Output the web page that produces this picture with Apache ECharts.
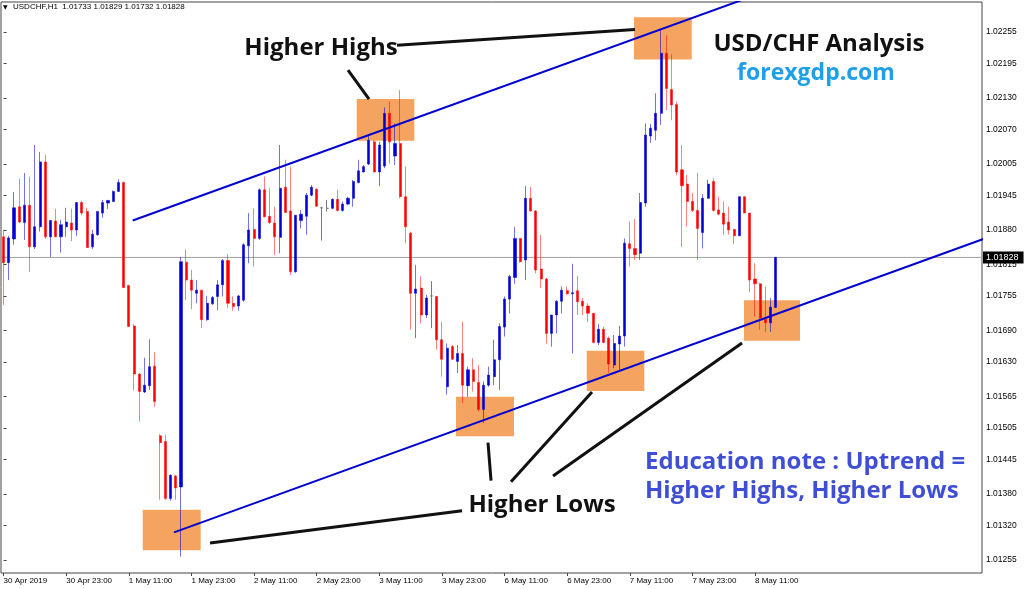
<!DOCTYPE html>
<html><head><meta charset="utf-8">
<script src="https://cdn.jsdelivr.net/npm/echarts@6/dist/echarts.min.js"></script>
<style>html,body{margin:0;padding:0;background:#fff}#c{width:1024px;height:589px}</style>
</head><body><div id="c"></div>
<script>
// ---- price data (H1 bars, 30 Apr 2019 11:00 -> 8 May 2019 15:00) ----
const openP = [1.01867,1.01818,1.01863,1.01924,1.01894,1.01927,1.01848,1.01886,1.02009,1.01867,
1.01897,1.01867,1.01886,1.01893,1.01880,1.01932,1.01915,1.01848,1.01871,1.01912,
1.01931,1.01934,1.01953,1.01970,1.01775,1.01698,1.01607,1.01573,1.01585,1.01622,
1.01490,1.01479,1.01371,1.01414,1.01393,1.01819,1.01785,1.01760,1.01766,1.01710,
1.01740,1.01754,1.01776,1.01822,1.01741,1.01736,1.01747,1.01850,1.01881,1.01864,
1.01956,1.01906,1.01893,1.01866,1.01961,1.01916,1.01801,1.01898,1.01906,1.01946,
1.01957,1.01922,1.01921,1.01921,1.01938,1.01917,1.01929,1.01940,1.01970,1.01990,
1.02005,1.02047,1.01990,1.02001,1.02101,1.02020,1.02044,1.01943,1.01874,1.01760,
1.01770,1.01719,1.01755,1.01754,1.01672,1.01583,1.01659,1.01631,1.01646,1.01585,
1.01615,1.01591,1.01540,1.01586,1.01602,1.01634,1.01696,1.01749,1.01790,1.01864,
1.01823,1.01940,1.01916,1.01806,1.01787,1.01684,1.01719,1.01745,1.01765,1.01759,
1.01765,1.01745,1.01736,1.01722,1.01667,1.01692,1.01675,1.01624,1.01664,1.01679,
1.01854,1.01845,1.01836,1.01931,1.02058,1.02069,1.02101,1.02215,1.02146,1.02118,
1.01994,1.01967,1.01934,1.01917,1.01875,1.01940,1.01972,1.01918,1.01912,1.01895,
1.01881,1.01869,1.01943,1.01912,1.01787,1.01778,1.01711,1.01704,1.01733];
const highP = [1.01880,1.01869,1.01952,1.01977,1.01988,1.01981,1.02041,1.02028,1.02022,1.01899,
1.01920,1.01899,1.01922,1.01920,1.01933,1.01935,1.01922,1.01880,1.01915,1.01937,
1.01937,1.01955,1.01976,1.01972,1.01776,1.01702,1.01609,1.01638,1.01673,1.01648,
1.01493,1.01492,1.01417,1.01416,1.01829,1.01843,1.01804,1.01785,1.01766,1.01755,
1.01755,1.01785,1.01825,1.01834,1.01754,1.01757,1.01855,1.01912,1.01921,1.01959,
1.01981,1.01959,1.01924,1.02041,1.02013,1.02000,1.01908,1.01918,1.01950,1.01965,
1.01959,1.01924,1.01937,1.01940,1.01956,1.01934,1.01943,1.01975,1.02013,1.02003,
1.02060,1.02050,1.02047,1.02112,1.02123,1.02082,1.02145,1.02000,1.01877,1.01814,
1.01792,1.01757,1.01783,1.01755,1.01706,1.01665,1.01662,1.01662,1.01706,1.01621,
1.01637,1.01624,1.01593,1.01621,1.01672,1.01703,1.01754,1.01795,1.01886,1.01864,
1.01963,1.01962,1.01918,1.01871,1.01789,1.01719,1.01747,1.01773,1.01773,1.01816,
1.01793,1.01751,1.01741,1.01723,1.01702,1.01697,1.01678,1.01681,1.01698,1.01864,
1.01896,1.01901,1.01950,1.02082,1.02081,1.02139,1.02259,1.02249,1.02213,1.02123,
1.02041,1.01984,1.01950,1.01988,1.01948,1.01975,1.01978,1.01943,1.01934,1.01924,
1.01882,1.01944,1.01944,1.01912,1.01817,1.01780,1.01773,1.01751,1.01829];
const lowP = [1.01738,1.01785,1.01852,1.01893,1.01861,1.01801,1.01844,1.01877,1.01863,1.01829,
1.01866,1.01837,1.01867,1.01859,1.01869,1.01908,1.01846,1.01844,1.01869,1.01903,
1.01920,1.01934,1.01953,1.01770,1.01696,1.01576,1.01517,1.01571,1.01577,1.01545,
1.01369,1.01369,1.01367,1.01369,1.01261,1.01747,1.01730,1.01741,1.01694,1.01708,
1.01738,1.01728,1.01754,1.01732,1.01727,1.01727,1.01744,1.01817,1.01811,1.01861,
1.01904,1.01891,1.01833,1.01836,1.01912,1.01795,1.01799,1.01883,1.01871,1.01944,
1.01924,1.01860,1.01915,1.01919,1.01915,1.01915,1.01927,1.01924,1.01968,1.01989,
1.02003,1.01989,1.01963,1.01997,1.02006,1.02003,1.01940,1.01855,1.01691,1.01675,
1.01703,1.01713,1.01694,1.01653,1.01602,1.01568,1.01634,1.01609,1.01552,1.01564,
1.01574,1.01536,1.01514,1.01583,1.01586,1.01577,1.01678,1.01722,1.01778,1.01818,
1.01785,1.01915,1.01798,1.01770,1.01665,1.01659,1.01684,1.01722,1.01757,1.01646,
1.01719,1.01719,1.01706,1.01665,1.01662,1.01665,1.01609,1.01618,1.01615,1.01659,
1.01811,1.01823,1.01823,1.01924,1.02045,1.02050,1.02079,1.02107,1.02088,1.01984,
1.01848,1.01886,1.01914,1.01823,1.01845,1.01939,1.01915,1.01908,1.01871,1.01871,
1.01854,1.01869,1.01912,1.01763,1.01716,1.01691,1.01687,1.01687,1.01732];
const closeP = [1.01818,1.01865,1.01922,1.01895,1.01927,1.01848,1.01886,1.02009,1.01867,1.01898,
1.01867,1.01890,1.01895,1.01880,1.01932,1.01912,1.01847,1.01872,1.01915,1.01932,
1.01936,1.01953,1.01970,1.01771,1.01697,1.01607,1.01574,1.01586,1.01621,1.01555,
1.01477,1.01371,1.01415,1.01391,1.01820,1.01785,1.01766,1.01766,1.01710,1.01741,
1.01752,1.01776,1.01822,1.01741,1.01735,1.01755,1.01852,1.01880,1.01864,1.01956,
1.01905,1.01894,1.01867,1.01959,1.01913,1.01801,1.01908,1.01910,1.01946,1.01961,
1.01925,1.01922,1.01921,1.01938,1.01917,1.01929,1.01940,1.01972,1.01992,1.02000,
1.02050,1.01990,1.02041,1.02101,1.02047,1.02044,1.01943,1.01886,1.01760,1.01768,
1.01719,1.01751,1.01755,1.01672,1.01635,1.01656,1.01635,1.01646,1.01586,1.01615,
1.01593,1.01540,1.01586,1.01605,1.01634,1.01697,1.01749,1.01792,1.01864,1.01820,
1.01940,1.01916,1.01804,1.01787,1.01684,1.01719,1.01745,1.01766,1.01759,1.01761,
1.01744,1.01736,1.01722,1.01667,1.01692,1.01667,1.01626,1.01665,1.01679,1.01855,
1.01845,1.01833,1.01932,1.02060,1.02073,1.02101,1.02215,1.02148,1.02117,1.01990,
1.01964,1.01934,1.01917,1.01883,1.01940,1.01967,1.01917,1.01910,1.01891,1.01880,
1.01869,1.01943,1.01912,1.01785,1.01778,1.01713,1.01704,1.01734,1.01828];

const xTickLabels = ['30 Apr 2019','30 Apr 23:00','1 May 11:00','1 May 23:00','2 May 11:00','2 May 23:00',
  '3 May 11:00','3 May 23:00','6 May 11:00','6 May 23:00','7 May 11:00','7 May 23:00','8 May 11:00'];
const yTickValues = [1.02255,1.02195,1.02130,1.02070,1.02005,1.01945,1.01880,1.01815,1.01755,
  1.01690,1.01630,1.01565,1.01505,1.01445,1.01380,1.01320,1.01255];
const lastPrice = 1.01828;
const headerText = 'USDCHF,H1  1.01733 1.01829 1.01732 1.01828';

// annotations in data units: [bar index, price]
const upperTrend = [[24.74, 1.01898], [142.1, 1.02318]];
const lowerTrend = [[32.66, 1.01307], [190, 1.01871]];
const boxes = [ // [x1, priceTop, x2, priceBottom]
  [67.67, 1.02128, 78.71, 1.02049],
  [120.81, 1.02283, 131.87, 1.02203],
  [26.66, 1.01350, 37.77, 1.01273],
  [86.70, 1.01564, 97.81, 1.01489],
  [111.75, 1.01651, 122.79, 1.01575],
  [141.89, 1.01747, 152.63, 1.01670]
];
const pointers = [
  [[66.0, 1.02183], [70.03, 1.02128]],
  [[75.39, 1.02230], [121.0, 1.02260]],
  [[39.56, 1.01287], [87.85, 1.01348]],
  [[93.41, 1.01405], [92.83, 1.01477]],
  [[97.24, 1.01403], [112.76, 1.01573]],
  [[105.29, 1.01414], [141.51, 1.01666]]
];

// ---- build categories (hourly slots, weekend skipped, plus empty right margin) ----
const SLOTS = 188;
const dayList = [['30 Apr',11],['1 May',0],['2 May',0],['3 May',0],['6 May',0],['7 May',0],['8 May',0],['9 May',0],['10 May',0]];
const categories = [];
for (const [d, h0] of dayList) {
  for (let h = h0; h < 24 && categories.length < SLOTS; h++) categories.push(d + ' ' + String(h).padStart(2,'0') + ':00');
}
const candles = categories.map((c, i) => i < openP.length ? [openP[i], closeP[i], lowP[i], highP[i]] : '-');
const tickShown = (idx) => idx % 12 === 0 && idx / 12 < xTickLabels.length;

const chart = echarts.init(document.getElementById('c'), null, {renderer: 'canvas'});
const lineSeries = (pts, color, width, z) => ({
  type: 'line', xAxisIndex: 1, yAxisIndex: 0, data: pts, symbol: 'none', clip: true,
  lineStyle: {color: color, width: width}, z: z || 6, silent: true, animation: false
});

const priceLine = lineSeries([[-0.5, lastPrice], [SLOTS - 0.5, lastPrice]], '#a0a0a0', 1, 2);
priceLine.endLabel = {show: true, formatter: lastPrice.toFixed(5), backgroundColor: '#000', color: '#fff',
  fontSize: 9, fontFamily: 'Liberation Sans', padding: [2, 5, 1, 3], distance: 1};

const option = {
  animation: false,
  backgroundColor: '#fff',
  grid: {left: 1, right: 42, top: 2, bottom: 16, show: true, borderColor: '#444', borderWidth: 1, backgroundColor: 'transparent'},
  xAxis: [{
    type: 'category', data: categories, boundaryGap: true,
    axisLine: {show: false},
    axisTick: {show: true, alignWithLabel: true, length: 3, interval: tickShown, lineStyle: {color: '#444'}},
    axisLabel: {interval: tickShown, align: 'left', fontSize: 8, color: '#000', fontFamily: 'Liberation Sans', margin: 4,
      formatter: (v, idx) => xTickLabels[idx / 12] || ''},
    splitLine: {show: false}
  }, {
    type: 'value', min: -0.5, max: SLOTS - 0.5, show: false
  }],
  yAxis: [{
    type: 'value', position: 'right', min: 1.0123, max: 1.02312, scale: true,
    axisLine: {show: false},
    axisTick: {show: true, length: 3, customValues: yTickValues, lineStyle: {color: '#444'}},
    axisLabel: {customValues: yTickValues, fontSize: 8.5, color: '#000', fontFamily: 'Liberation Sans', margin: 4,
      formatter: v => v.toFixed(5)},
    splitLine: {show: false}
  }],
  series: [
    {
      type: 'custom', xAxisIndex: 1, yAxisIndex: 0, data: boxes, clip: true, z: 1, silent: true,
      encode: {x: [0, 2], y: [1, 3]},
      renderItem: (params, api) => {
        const a = api.coord([api.value(0), api.value(1)]);
        const b = api.coord([api.value(2), api.value(3)]);
        return {type: 'rect', shape: {x: Math.min(a[0], b[0]), y: Math.min(a[1], b[1]), width: Math.abs(b[0] - a[0]), height: Math.abs(b[1] - a[1])},
          style: {fill: '#F4A460'}};
      }
    },
    priceLine,
    {
      type: 'candlestick', xAxisIndex: 0, yAxisIndex: 0, data: candles, barWidth: 2.6, z: 3,
      itemStyle: {color: '#0000D2', color0: '#FF0000', borderColor: 'rgba(0,0,210,0.55)', borderColor0: 'rgba(255,0,0,0.5)',
        borderColorDoji: '#777', borderWidth: 1}
    },
    lineSeries(upperTrend, '#0000D0', 2),
    lineSeries(lowerTrend, '#0000D0', 2),
    ...pointers.map(p => lineSeries(p, '#111', 3))
  ],
  graphic: [
    {type: 'text', x: 3, y: 7, z: 100, style: {text: '▼', font: '6px "DejaVu Sans"', fill: '#000', textVerticalAlign: 'middle'}},
    {type: 'text', x: 13, y: 7, z: 100, style: {text: headerText, font: '8px "Liberation Sans"', fill: '#000', textVerticalAlign: 'middle'}},
    {type: 'text', x: 321, y: 48, z: 100, style: {text: 'Higher Highs', font: 'bold 24px "Open Sans"', fill: '#111', textAlign: 'center', textVerticalAlign: 'middle'}},
    {type: 'text', x: 542, y: 505, z: 100, style: {text: 'Higher Lows', font: 'bold 24px "Open Sans"', fill: '#111', textAlign: 'center', textVerticalAlign: 'middle'}},
    {type: 'text', x: 819, y: 44, z: 100, style: {text: 'USD/CHF Analysis', font: 'bold 24px "Open Sans"', fill: '#111', textAlign: 'center', textVerticalAlign: 'middle'}},
    {type: 'text', x: 816, y: 73, z: 100, style: {text: 'forexgdp.com', font: 'bold 23px "Open Sans"', fill: '#1E9FE8', textAlign: 'center', textVerticalAlign: 'middle'}},
    {type: 'text', x: 645, y: 462, z: 100, style: {text: 'Education note : Uptrend =', font: 'bold 24px "Open Sans"', fill: '#3F4FD5', textAlign: 'left', textVerticalAlign: 'middle'}},
    {type: 'text', x: 645, y: 491, z: 100, style: {text: 'Higher Highs, Higher Lows', font: 'bold 24px "Open Sans"', fill: '#3F4FD5', textAlign: 'left', textVerticalAlign: 'middle'}}
  ]
};
chart.setOption(option);
</script>
</body></html>
